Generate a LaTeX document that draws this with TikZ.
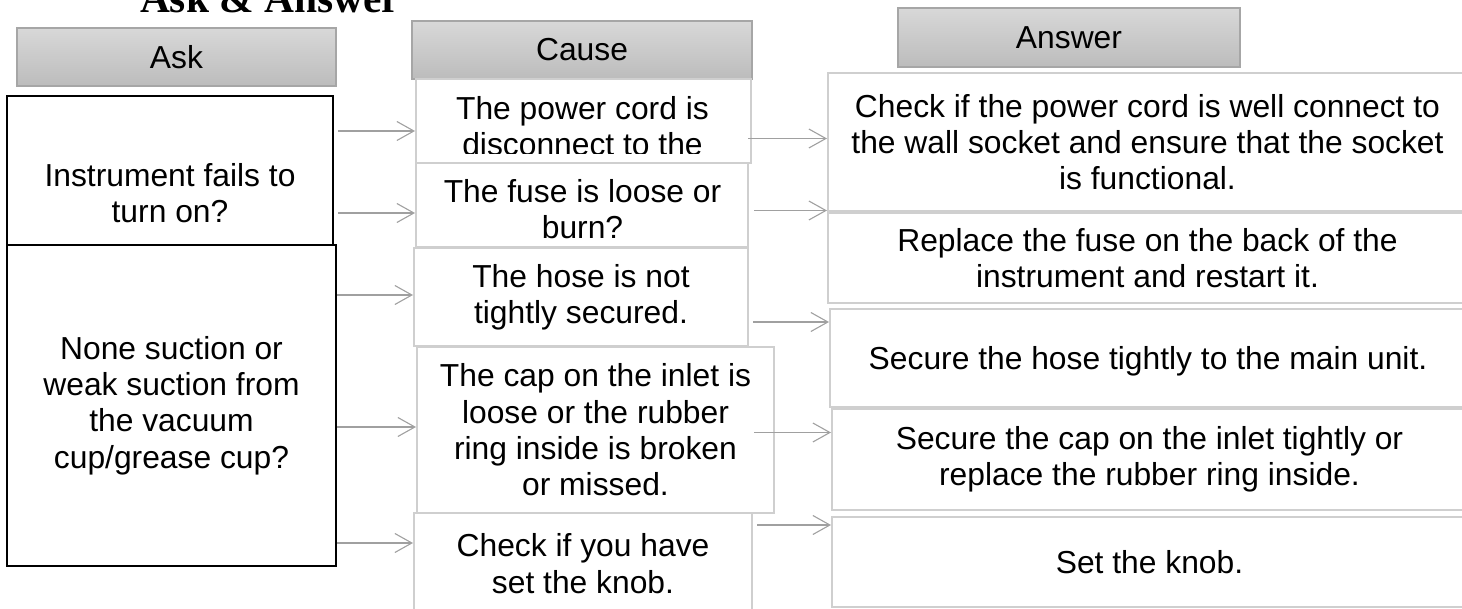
\documentclass[tikz,border=0pt]{standalone}
\usepackage{fontspec}
\setmainfont{Liberation Sans}
\newfontfamily\titlefont{Liberation Serif}
\usetikzlibrary{arrows.meta}
\definecolor{hdtop}{HTML}{D8D8D8}
\definecolor{hdbot}{HTML}{BCBCBC}
\definecolor{hdline}{HTML}{A6A6A6}
\definecolor{boxline}{HTML}{CFCFCF}
\definecolor{arrline}{HTML}{A0A0A0}
\newcommand{\bodyfont}{\fontsize{31.8}{36.3}\selectfont}
\begin{document}
\begin{tikzpicture}[x=1pt,y=-1pt,
  hdr/.style={draw=hdline, line width=1.5pt, top color=hdtop, bottom color=hdbot, inner sep=0pt, font=\bodyfont},
  askbox/.style={draw=black, line width=2pt, fill=white, inner sep=0pt, align=center, font=\bodyfont},
  cbox/.style={draw=boxline, line width=2pt, fill=white, inner sep=0pt, align=center, font=\bodyfont},
  txt/.style={inner sep=0pt, align=center, font=\bodyfont},
  arr/.style={draw=arrline, line width=1.1pt, -{Straight Barb[length=17pt,width=19pt,line width=1.1pt]}}
]
\useasboundingbox (0,0) rectangle (1462,609);
\clip (0,0) rectangle (1462,609);

% title
\node[anchor=base, inner sep=0pt, font=\titlefont\bfseries\fontsize{41.4}{48}\selectfont] (title) at (270,12.7) {Ask \& Answer};

% headers
\node[hdr, minimum width=319pt, minimum height=58pt] (askh) at (176.5,57) {Ask};
\node[hdr, minimum width=340pt, minimum height=58pt] (causeh) at (582,50) {Cause};
\node[hdr, minimum width=342pt, minimum height=59pt] (ansh) at (1069,37.5) {Answer};

% ask column
\node[askbox, minimum width=326pt, minimum height=149pt] (ask1) at (170,170.5) {};
\node[txt] (ask1t) at (170,193) {Instrument fails to\\turn on?};
\node[askbox, minimum width=329pt, minimum height=321pt] (ask2) at (171.5,405.5) {None suction or\\weak suction from\\the vacuum\\cup/grease cup?};

% cause column
\node[cbox, minimum width=335pt, minimum height=84pt] (c1) at (583.5,121) {};
\begin{scope}
  \clip (416,79) rectangle (751,153.5);
  \node[txt, anchor=north] (c1t) at (582.5,96) {The power cord is\\disconnect to the};
\end{scope}
\node[cbox, minimum width=332pt, minimum height=84pt] (c2) at (582,205) {};
\node[txt] (c2t) at (582.5,209) {The fuse is loose or\\burn?};
\node[cbox, minimum width=334pt, minimum height=98pt] (c3) at (581,297.5) {The hose is not\\tightly secured.};
\node[cbox, minimum width=357pt, minimum height=166pt] (c4) at (595.5,430) {The cap on the inlet is\\loose or the rubber\\ring inside is broken\\or missed.};
\node[cbox, minimum width=338pt, minimum height=101pt] (c5) at (583,563.5) {Check if you have\\set the knob.};

% answer column
\node[cbox, minimum width=639pt, minimum height=138pt] (a1) at (1147.5,142) {Check if the power cord is well connect to\\the wall socket and ensure that the socket\\is functional.};
\node[cbox, minimum width=639pt, minimum height=90pt] (a2) at (1147.5,258) {Replace the fuse on the back of the\\instrument and restart it.};
\node[cbox, minimum width=637pt, minimum height=98pt] (a3) at (1148.5,358) {};
\node[txt] (a3t) at (1148,361) {Secure the hose tightly to the main unit.};
\node[cbox, minimum width=635pt, minimum height=101pt] (a4) at (1149.5,459.5) {Secure the cap on the inlet tightly or\\replace the rubber ring inside.};
\node[cbox, minimum width=635pt, minimum height=90pt] (a5) at (1149.5,562) {Set the knob.};

% arrows ask -> cause
\coordinate (s1) at (338,131);
\coordinate (s2) at (338,213);
\coordinate (s3) at (337,295);
\coordinate (s4) at (337,427);
\coordinate (s5) at (337,543);
\draw[arr] (s1) -- (s1 -| c1.west);
\draw[arr] (s2) -- (s2 -| c2.west);
\draw[arr] (s3) -- (s3 -| c3.west);
\draw[arr] (s4) -- (s4 -| c4.west);
\draw[arr] (s5) -- (s5 -| c5.west);

% arrows cause -> answer
\coordinate (t1) at (748,138.5);
\coordinate (t2) at (754,210.5);
\coordinate (t3) at (753,322);
\coordinate (t4) at (754,432.5);
\coordinate (t5) at (757,525);
\draw[arr] (t1) -- (t1 -| a1.west);
\draw[arr] (t2) -- (t2 -| a2.west);
\draw[arr] (t3) -- (t3 -| a3.west);
\draw[arr] (t4) -- (t4 -| a4.west);
\draw[arr] (t5) -- (t5 -| a5.west);
\end{tikzpicture}
\end{document}
